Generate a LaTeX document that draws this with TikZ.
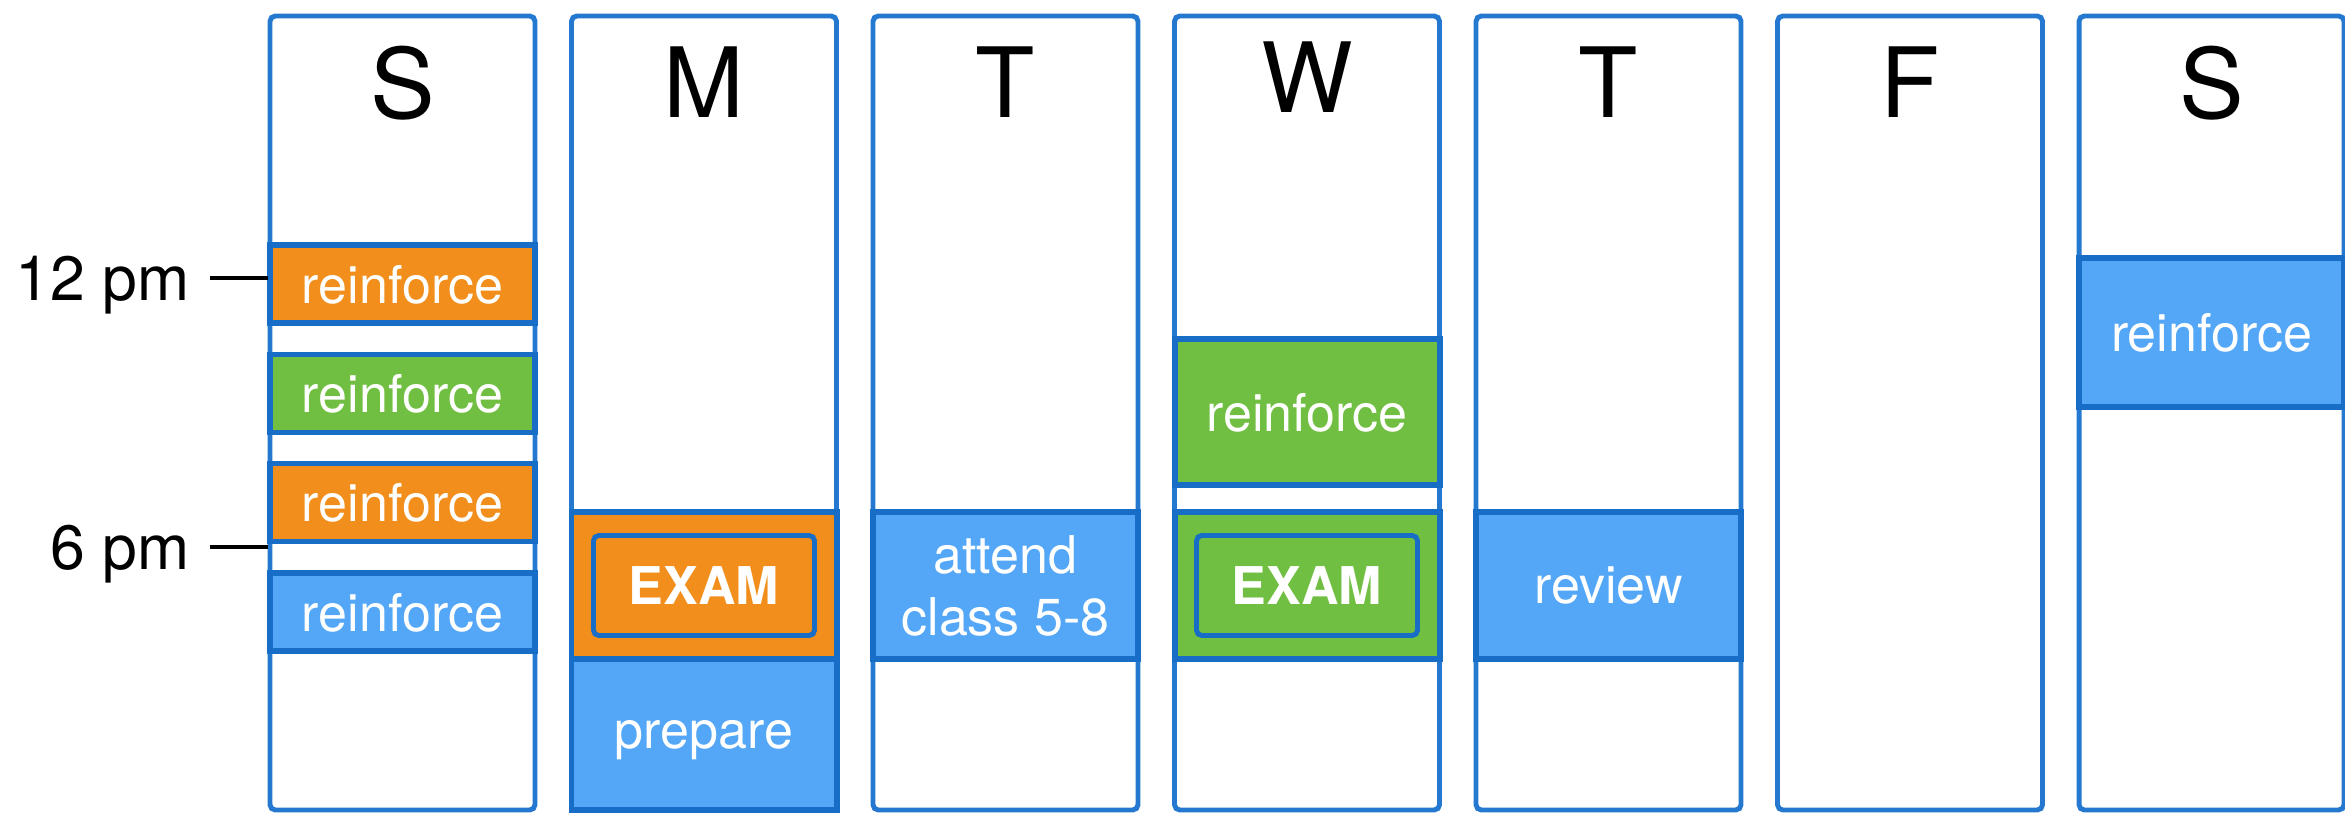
\documentclass[tikz,border=0pt]{standalone}
\usepackage{fontspec}
\setsansfont{TeX Gyre Heros}
\usepackage{tikz}
\usetikzlibrary{positioning}
\tikzstyle{every picture}+=[font=\sffamily]
\definecolor{frame}{RGB}{24,110,198}
\definecolor{colframe}{RGB}{36,120,208}
\definecolor{sky}{RGB}{83,167,246}
\definecolor{amber}{RGB}{242,143,28}
\definecolor{leaf}{RGB}{113,191,66}

\begin{document}
\begin{tikzpicture}
	[font=\sffamily, inner sep=0pt,
	daycol/.style	= {rectangle, draw=colframe, line width=1.4pt, rounded corners=1.5pt, minimum width=26.5mm, minimum height=79.4mm},
	block/.style	= {rectangle, draw=frame, line width=1.7pt, minimum width=26.5mm, text=white, text depth=0pt, align=center, font=\sffamily\fontsize{14.8}{17.9}\selectfont},
	exam/.style	= {rectangle, draw=frame, line width=1.4pt, rounded corners=1.5pt, minimum width=22.1mm, minimum height=10mm, text=white, text depth=0pt, font=\sffamily\bfseries\fontsize{14.8}{17.9}\selectfont},
	daylabel/.style	= {text depth=0pt, font=\sffamily\fontsize{27.6}{33}\selectfont},
	hour/.style	= {anchor=east, inner sep=5.7pt, text depth=0pt, font=\sffamily\fontsize{17.8}{21}\selectfont},
	hourline/.style	= {draw=black, line width=1.1pt}]
	
	\useasboundingbox (0, 0) rectangle (23.45, -8.15);
	
	\node at (4.025, -4.13)		[daycol]	(sun)	{};
	\node at (7.04, -4.13)		[daycol]	(mon)	{};
	\node at (10.055, -4.13)	[daycol]	(tue)	{};
	\node at (13.07, -4.13)		[daycol]	(wed)	{};
	\node at (16.085, -4.13)	[daycol]	(thu)	{};
	\node at (19.10, -4.13)		[daycol]	(fri)	{};
	\node at (22.115, -4.13)	[daycol]	(sat)	{};
	
	\node at (4.025, -0.82)		[daylabel]	(dsun)	{S};
	\node at (7.04, -0.82)		[daylabel]	(dmon)	{M};
	\node at (10.055, -0.82)	[daylabel]	(dtue)	{T};
	\node at (13.07, -0.77)		[daylabel]	(dwed)	{W};
	\node at (16.085, -0.82)	[daylabel]	(dthu)	{T};
	\node at (19.10, -0.82)		[daylabel]	(dfri)	{F};
	\node at (22.115, -0.82)	[daylabel]	(dsat)	{S};
	
	% sunday
	\node at (4.025, -2.84)		[block, fill=amber, minimum height=7.8mm]	(sun1)	{reinforce};
	\node at (4.025, -3.935)	[block, fill=leaf, minimum height=7.8mm]	(sun2)	{reinforce};
	\node at (4.025, -5.025)	[block, fill=amber, minimum height=7.8mm]	(sun3)	{reinforce};
	\node at (4.025, -6.12)		[block, fill=sky, minimum height=7.8mm]		(sun4)	{reinforce};
	
	% monday
	\node at (7.04, -5.855)		[block, fill=amber, minimum height=14.7mm]	(monexam)	{};
	\node at (7.04, -7.345)		[block, fill=sky, minimum height=15.1mm]	(monprep)	{prepare};
	\node at (monexam.center)	[exam, fill=amber]	(monexamin)	{EXAM};
	
	% tuesday
	\node at (10.055, -5.855)	[block, fill=sky, minimum height=14.7mm]	(tueclass)	{attend\\class 5-8};
	
	% wednesday
	\node at (13.07, -4.12)		[block, fill=leaf, minimum height=14.6mm]	(wedrein)	{reinforce};
	\node at (13.07, -5.855)	[block, fill=leaf, minimum height=14.7mm]	(wedexam)	{};
	\node at (wedexam.center)	[exam, fill=leaf]	(wedexamin)	{EXAM};
	
	% thursday
	\node at (16.085, -5.855)	[block, fill=sky, minimum height=14.7mm]	(thurev)	{review};
	
	% saturday
	\node at (22.115, -3.325)	[block, fill=sky, minimum height=14.9mm]	(satrein)	{reinforce};
	
	% times
	\node at (2.10, -2.78)		[hour]		(h12)	{12 pm};
	\node at (2.10, -5.47)		[hour]		(h6)	{6 pm};
	
	\draw [hourline] (h12.east) -- (h12.east -| sun.west);
	\draw [hourline] (h6.east) -- (h6.east -| sun.west);
\end{tikzpicture}
\end{document}
